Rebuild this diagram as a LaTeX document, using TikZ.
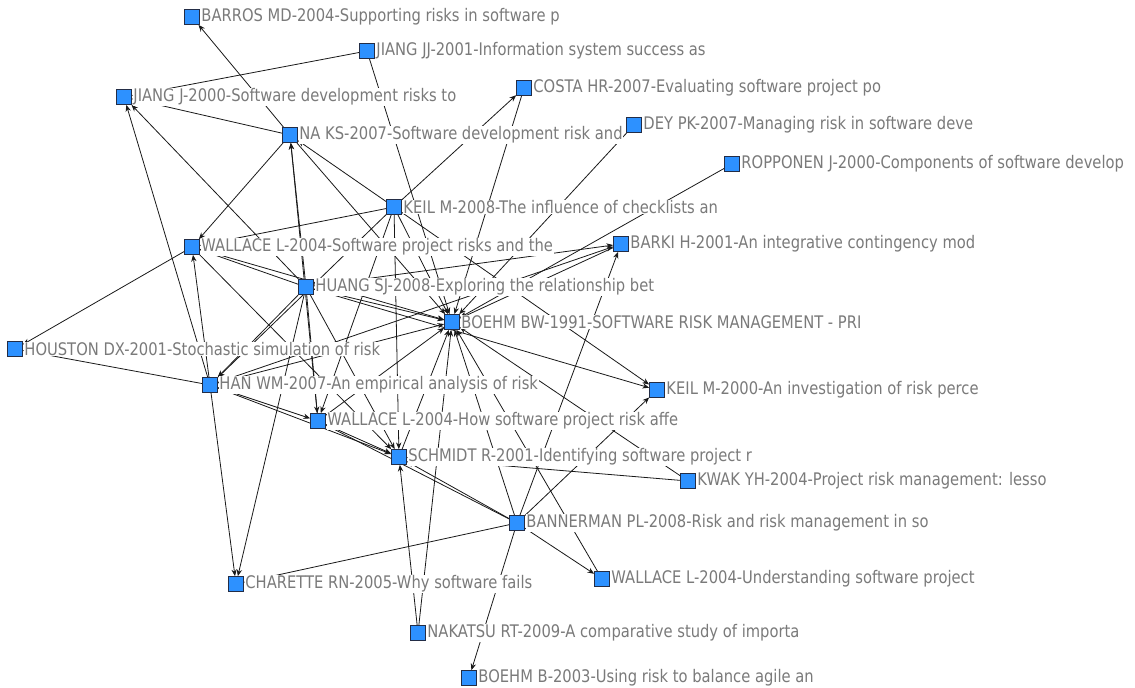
\documentclass[tikz,border=0pt]{standalone}
\usepackage{fontspec}
\setmainfont{DejaVu Sans}[FakeStretch=0.85]
\usetikzlibrary{arrows.meta}
\pgfdeclarelayer{edges}
\pgfsetlayers{edges,main}
\definecolor{sqblue}{RGB}{45,145,255}
\definecolor{sqedge}{RGB}{35,45,70}
\definecolor{labgray}{RGB}{122,122,122}
\newcommand{\papnode}[4]{%
  \node[sq] (#1) at (#2,#3) {};
  \node[lab] (#1-l) at ({#2+8.5},#3) {#4};}
\begin{document}
\begin{tikzpicture}[x=0.75pt,y=-0.75pt,
  sq/.style={draw=sqedge,fill=sqblue,minimum size=11.2pt,inner sep=0pt,line width=0.6pt},
  lab/.style={anchor=west,fill=white,text=labgray,inner sep=0.5pt,
    font=\fontsize{13pt}{14pt}\selectfont},
  edge/.style={draw=black!90,line width=0.6pt,-{Stealth[length=5pt,width=4pt]}}]
\useasboundingbox (0,0) rectangle (1135,688);
\clip (0,0) rectangle (1135,688);
\begin{pgfonlayer}{edges}
  \fill[white] (0,0) rectangle (1135,688);
\end{pgfonlayer}
\papnode{barros}{192}{17}{BARROS MD-2004-Supporting risks in software p}
\papnode{jiangjj}{367}{51}{JIANG JJ-2001-Information system success as}
\papnode{jiangj}{124}{97}{JIANG J-2000-Software development risks to}
\papnode{naks}{290}{135}{NA KS-2007-Software development risk and}
\papnode{costa}{524}{88}{COSTA HR-2007-Evaluating software project po}
\papnode{dey}{634}{125}{DEY PK-2007-Managing risk in software deve}
\papnode{ropp}{732}{164}{ROPPONEN J-2000-Components of software develop}
\papnode{keil08}{394}{207}{KEIL M-2008-The influence of checklists an}
\papnode{walls}{192}{247}{WALLACE L-2004-Software project risks and the}
\papnode{barki}{621}{244}{BARKI H-2001-An integrative contingency mod}
\papnode{huang}{306}{287}{HUANG SJ-2008-Exploring the relationship bet}
\papnode{boehm}{452}{322}{BOEHM BW-1991-SOFTWARE RISK MANAGEMENT - PRI}
\papnode{houston}{15}{349}{HOUSTON DX-2001-Stochastic simulation of risk}
\papnode{han}{210}{385}{HAN WM-2007-An empirical analysis of risk}
\papnode{keil00}{657}{390}{KEIL M-2000-An investigation of risk perce}
\papnode{wallh}{318}{421}{WALLACE L-2004-How software project risk affe}
\papnode{schmidt}{399}{457}{SCHMIDT R-2001-Identifying software project r}
\papnode{kwak}{688}{481}{KWAK YH-2004-Project risk management: lesso}
\papnode{bann}{517}{523}{BANNERMAN PL-2008-Risk and risk management in so}
\papnode{charette}{236}{584}{CHARETTE RN-2005-Why software fails}
\papnode{wallu}{602}{579}{WALLACE L-2004-Understanding software project}
\papnode{nakatsu}{418}{633}{NAKATSU RT-2009-A comparative study of importa}
\papnode{boehmb}{469}{678}{BOEHM B-2003-Using risk to balance agile an}
\begin{pgfonlayer}{edges}
\foreach \a/\b in {naks/barros, jiangjj/jiangj, jiangjj/boehm, naks/jiangj,
  han/jiangj, huang/jiangj, keil08/naks, huang/naks, wallh/naks, naks/boehm,
  naks/walls, keil08/costa, costa/boehm, dey/boehm, ropp/boehm, keil08/walls,
  keil08/keil00, keil08/boehm, keil08/schmidt, keil08/han, keil08/wallh,
  walls/houston, han/houston, han/walls, huang/walls, walls/schmidt,
  walls/boehm, huang/barki, han/barki, bann/barki, barki/boehm, huang/boehm,
  huang/han, huang/wallh, huang/schmidt, huang/charette, huang/keil00,
  han/boehm, han/wallh, han/schmidt, han/charette, wallh/boehm, wallh/schmidt,
  schmidt/boehm, kwak/schmidt, kwak/boehm, bann/schmidt, bann/wallh,
  bann/boehm, bann/keil00, bann/charette, bann/wallu, bann/boehmb,
  wallu/boehm, nakatsu/schmidt, nakatsu/boehm}
  \draw[edge] (\a) -- (\b);
\end{pgfonlayer}
\end{tikzpicture}
\end{document}
